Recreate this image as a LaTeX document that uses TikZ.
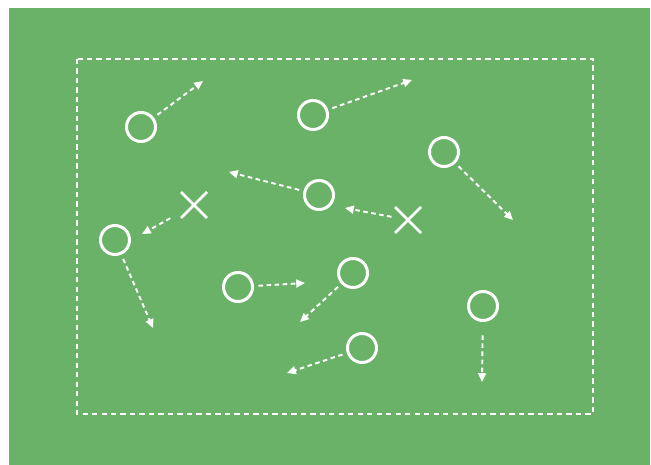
\documentclass[tikz,border=0pt]{standalone}
\usepackage{xcolor}
\usepackage{tikz}
\usetikzlibrary{arrows.meta,shapes.misc}

\definecolor{pitch}{RGB}{106,178,104}

\begin{document}
\begin{tikzpicture}[x=0.02cm,y=-0.02cm,>={Triangle[length=5pt,width=4.5pt]},
                    player/.style={circle,draw=white,line width=1.7pt,minimum size=0.58cm,inner sep=0pt,outer sep=0.12cm},
                    marker/.style={cross out,draw=white,line width=1.5pt,minimum size=0.26cm,inner sep=0pt,outer sep=0.13cm},
                    run/.style={->,white,line width=1.1pt,dash pattern=on 2.6pt off 2pt}]
    \useasboundingbox (0,0) rectangle (651,465);
    \fill[white] (0,0) rectangle (651,465);
    \fill[pitch] (9,8) rectangle (650,465);
    \draw[white,line width=1.1pt,dash pattern=on 3pt off 2.4pt] (77,59) rectangle (593,414);

    \node[player] (P1) at (141,127) {};
    \node[player] (P2) at (313,115) {};
    \node[player] (P3) at (444,152) {};
    \node[player] (P4) at (319,195) {};
    \node[player] (P5) at (115,240) {};
    \node[player] (P6) at (238,287) {};
    \node[player] (P7) at (353,273) {};
    \node[player] (P8) at (483,306) {};
    \node[player] (P9) at (362,348) {};
    \node[marker] (X1) at (194,205) {};
    \node[marker] (X2) at (408,220) {};

    \coordinate (T1) at (203,81);
    \coordinate (T2) at (412,80);
    \coordinate (T3) at (513,220);
    \coordinate (T4) at (229,172);
    \coordinate (T5) at (345,208);
    \coordinate (T6) at (142,234);
    \coordinate (T7) at (153,328);
    \coordinate (T8) at (305,283);
    \coordinate (T9) at (300,322);
    \coordinate (T10) at (482,382);
    \coordinate (T11) at (287,373);

    \draw[run] (P1) -- (T1);
    \draw[run] (P2) -- (T2);
    \draw[run] (P3) -- (T3);
    \draw[run] (P4) -- (T4);
    \draw[run,shorten <=2pt] (X2) -- (T5);
    \draw[run,shorten <=7pt] (X1) -- (T6);
    \draw[run] (P5) -- (T7);
    \draw[run] (P6) -- (T8);
    \draw[run] (P7) -- (T9);
    \draw[run,shorten <=5pt] (P8) -- (T10);
    \draw[run] (P9) -- (T11);
\end{tikzpicture}
\end{document}
